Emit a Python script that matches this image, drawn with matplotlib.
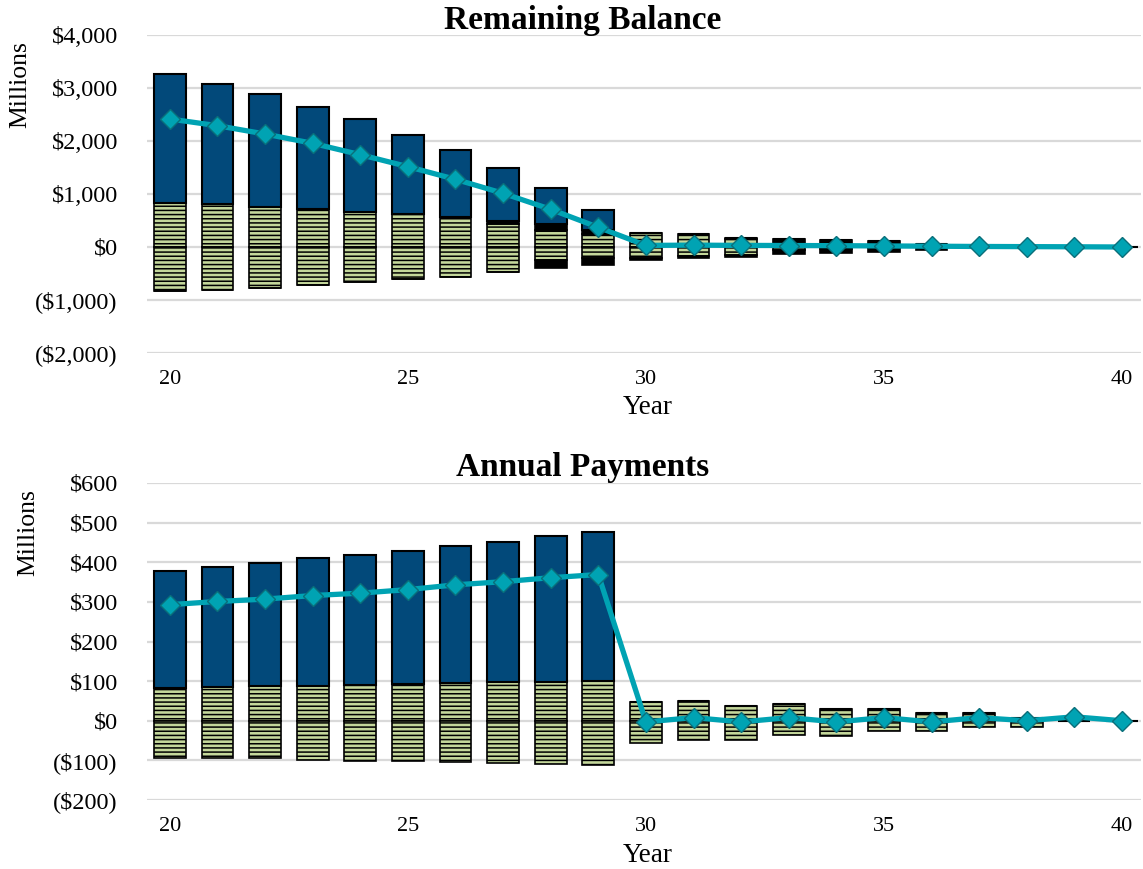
import matplotlib
matplotlib.use("Agg")
import matplotlib.pyplot as plt
import numpy as np

plt.rcParams['font.family'] = ['Liberation Serif', 'DejaVu Serif']
plt.rcParams['hatch.linewidth'] = 1.1

years = list(range(20, 41))

# Remaining balance components (millions)
bal_green_pos = [836, 805, 761, 717, 660, 623, 572, 434, 320, 245, 258, 239, 150, 60, 40, 20, 0, 0, 0, 0, 0]
bal_black_pos = [0, 0, 0, 0, 0, 0, 0, 56, 114, 75, 0, 0, 26, 85, 92, 93, 60, 0, 0, 0, 0]
bal_blue = [2422, 2270, 2119, 1931, 1749, 1484, 1258, 995, 673, 378, 0, 0, 0, 0, 0, 0, 0, 0, 0, 0, 0]
bal_green_neg = [-825, -811, -768, -723, -667, -610, -560, -466, -245, -214, -200, -170, -150, -60, -40, -20, 0, 0, 0, 0, 0]
bal_black_neg = [0, 0, 0, 0, 0, 0, 0, -15, -158, -126, -45, -31, -32, -78, -79, -68, -60, 0, 0, 0, 0]
bal_net = [2415, 2289, 2132, 1956, 1742, 1516, 1277, 1013, 711, 371, 30, 35, 30, 28, 25, 20, 15, 10, 7, 4, 0]

# Annual payment components (millions)
pay_green_pos = [83, 86, 88, 88, 90, 93, 96, 98, 98, 101, 48, 50, 38, 42, 29, 29, 20, 20, 8, 0, 0]
pay_blue = [296, 303, 309, 322, 329, 336, 346, 354, 367, 376, 0, 0, 0, 0, 0, 0, 0, 0, 0, 0, 0]
pay_green_neg = [-93, -93, -94, -98, -101, -101, -104, -106, -109, -111, -56, -48, -48, -35, -39, -26, -26, -17, -17, 0, 0]
pay_net = [293, 301, 307, 316, 322, 331, 343, 351, 361, 369, -3, 8, -3, 8, -3, 8, -3, 8, 0, 10, 0]

x_ticks = [20, 25, 30, 35, 40]
bal_yticks = [-2000, -1000, 0, 1000, 2000, 3000, 4000]
bal_ylabels = ['($2,000)', '($1,000)', '$0', '$1,000', '$2,000', '$3,000', '$4,000']
pay_yticks = [-200, -100, 0, 100, 200, 300, 400, 500, 600]
pay_ylabels = ['($200)', '($100)', '$0', '$100', '$200', '$300', '$400', '$500', '$600']

BLUE = '#02497a'
GREEN = '#c4d79b'
TEAL = '#00a3b3'
TEAL_EDGE = '#0a6f7a'
GRID = '#d9d9d9'
W = 0.67

W_PX, H_PX = 1143, 869
fig = plt.figure(figsize=(W_PX / 100, H_PX / 100), dpi=100)


def axes_at(left, top, right, bottom):
    return fig.add_axes([left / W_PX, 1 - bottom / H_PX, (right - left) / W_PX, (bottom - top) / H_PX])


def style_axes(ax, ylim, yticks, ylabels):
    ax.set_xlim(19.52, 40.4)
    ax.set_ylim(*ylim)
    ax.set_yticks(yticks)
    ax.set_yticklabels(ylabels)
    ax.set_xticks(x_ticks)
    ax.set_xticklabels([str(t) for t in x_ticks])
    for s in ax.spines.values():
        s.set_visible(False)
    ax.tick_params(axis='both', length=0, colors='black')
    ax.tick_params(axis='y', pad=21, labelsize=17.5)
    ax.tick_params(axis='x', pad=12, labelsize=16)
    ax.yaxis.grid(True, color=GRID, linewidth=1.6)
    ax.set_axisbelow(True)


def hatched(ax, x, h, bottom):
    ax.bar(x, h, W, bottom=bottom, color=GREEN, edgecolor='black', linewidth=1.2,
           hatch='----', zorder=2)


# ---------- Remaining Balance ----------
ax1 = axes_at(147, 35, 1141, 353)
style_axes(ax1, (-2000, 4000), bal_yticks, bal_ylabels)
gp = np.array(bal_green_pos)
bp = np.array(bal_black_pos)
gn = np.array(bal_green_neg)
hatched(ax1, years, gp, 0)
ax1.bar(years, bp, W, bottom=gp, color='black', edgecolor='black', linewidth=1.2, zorder=2)
ax1.bar(years, bal_blue, W, bottom=gp + bp, color=BLUE, edgecolor='black', linewidth=1.5, zorder=2)
hatched(ax1, years, gn, 0)
ax1.bar(years, bal_black_neg, W, bottom=gn, color='black', edgecolor='black', linewidth=1.2, zorder=2)
ax1.plot(years, bal_net, color=TEAL, linewidth=3.8, marker='D', markersize=10,
         markerfacecolor=TEAL, markeredgecolor=TEAL_EDGE, markeredgewidth=1.0, zorder=4)

# ---------- Annual Payments ----------
ax2 = axes_at(147, 483, 1141, 800)
style_axes(ax2, (-200, 600), pay_yticks, pay_ylabels)
pgp = np.array(pay_green_pos)
hatched(ax2, years, pgp, 0)
ax2.bar(years, pay_blue, W, bottom=pgp, color=BLUE, edgecolor='black', linewidth=1.5, zorder=2)
hatched(ax2, years, pay_green_neg, 0)
ax2.plot(years, pay_net, color=TEAL, linewidth=3.8, marker='D', markersize=10,
         markerfacecolor=TEAL, markeredgecolor=TEAL_EDGE, markeredgewidth=1.0, zorder=4)

# Titles and axis captions
fig.text(583 / W_PX, 1 - 20 / H_PX, 'Remaining Balance', ha='center', va='center',
         fontsize=24, fontweight='bold')
fig.text(583 / W_PX, 1 - 468 / H_PX, 'Annual Payments', ha='center', va='center',
         fontsize=24, fontweight='bold')
fig.text(648 / W_PX, 1 - 408 / H_PX, 'Year', ha='center', va='center', fontsize=19.5)
fig.text(648 / W_PX, 1 - 855 / H_PX, 'Year', ha='center', va='center', fontsize=19.5)
fig.text(20 / W_PX, 1 - 85 / H_PX, 'Millions', ha='center', va='center', rotation=90, fontsize=18.5)
fig.text(28 / W_PX, 1 - 533 / H_PX, 'Millions', ha='center', va='center', rotation=90, fontsize=18.5)

fig.savefig('out.png', dpi=100, facecolor='white')
